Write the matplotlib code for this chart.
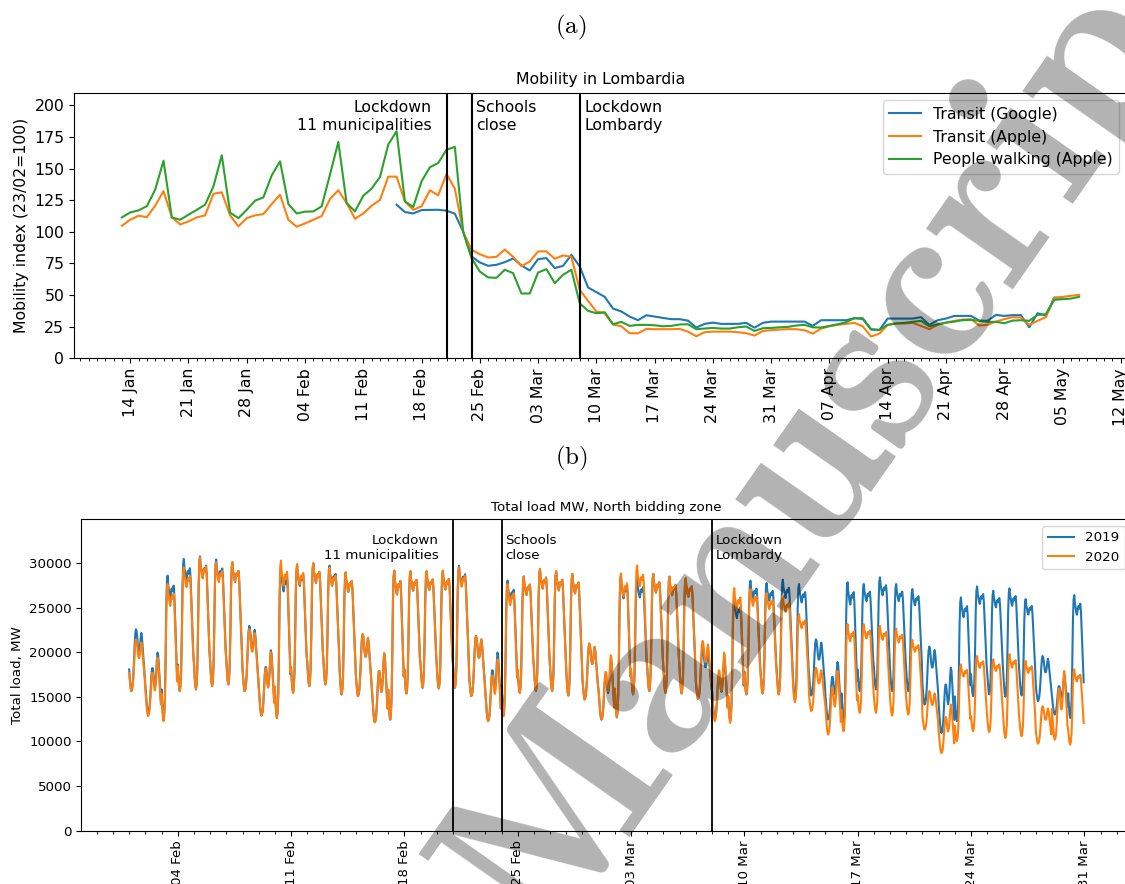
import matplotlib
matplotlib.use('Agg')
import numpy as np
import pandas as pd
import matplotlib.pyplot as plt
import matplotlib.dates as mdates
from matplotlib.ticker import MultipleLocator

plt.rcParams['mathtext.fontset'] = 'cm'

# ---- (a) mobility indices in Lombardia, 23/02 = 100 ----
apple_start = '2020-01-13'
transit_apple = [
    104.8, 109.5, 112.7, 111.6, 120.6, 132.2, 111.4,
    105.8, 108.2, 111.4, 113.0, 130.1, 131.2, 113.0,
    104.3, 110.8, 113.0, 114.0, 121.9, 129.3, 109.5,
    104.0, 106.6, 109.5, 112.4, 125.9, 132.8, 122.7,
    110.3, 114.5, 120.6, 125.1, 143.6, 143.6, 124.0,
    117.4, 120.1, 132.8, 128.8, 145.7, 134.1, 100.0,
    85.8, 82.3, 79.7, 80.2, 86.0, 80.2, 72.8,
    76.5, 84.5, 84.5, 78.7, 81.3, 80.2, 54.1,
    45.4, 37.0, 35.6, 26.7, 25.3, 19.8, 19.8,
    23.2, 23.0, 23.0, 23.0, 23.2, 21.1, 17.4,
    20.6, 21.1, 21.1, 21.1, 20.6, 19.8, 18.0,
    21.6, 22.2, 22.7, 23.0, 23.0, 22.2, 19.5,
    23.5, 25.3, 26.4, 27.2, 28.0, 25.3, 17.2,
    19.5, 26.4, 27.5, 27.5, 28.0, 25.6, 23.0,
    26.4, 28.2, 29.6, 30.6, 30.9, 25.9, 26.4,
    29.0, 30.9, 32.5, 32.2, 26.4, 29.6, 32.5,
    47.5, 48.5, 49.4, 50.2]
walking_apple = [
    111.4, 115.3, 116.9, 120.3, 133.3, 156.2, 111.4,
    109.5, 113.5, 117.4, 121.4, 135.9, 160.5, 115.1,
    110.8, 117.4, 124.6, 127.2, 144.6, 155.7, 121.9,
    114.5, 115.9, 116.1, 120.1, 145.2, 171.0, 122.7,
    116.1, 128.5, 134.1, 143.3, 168.9, 179.5, 124.0,
    119.6, 139.9, 151.0, 154.4, 164.9, 167.1, 100.0,
    79.2, 68.6, 63.9, 63.6, 70.0, 67.3, 51.2,
    51.2, 67.8, 70.5, 59.4, 66.0, 70.0, 43.5,
    37.5, 35.6, 36.4, 26.9, 28.8, 25.6, 26.4,
    26.4, 26.1, 25.3, 25.6, 26.7, 26.9, 23.0,
    23.5, 24.0, 23.5, 23.5, 24.5, 25.1, 21.6,
    23.8, 24.0, 24.5, 24.8, 25.9, 26.4, 24.5,
    24.3, 25.6, 26.9, 28.5, 31.7, 31.7, 23.0,
    22.4, 26.4, 27.5, 28.0, 28.8, 29.6, 25.3,
    26.9, 28.2, 29.0, 30.1, 30.4, 29.6, 28.8,
    28.8, 27.7, 29.8, 30.1, 29.6, 34.3, 34.8,
    46.2, 46.7, 47.2, 48.6]
google_start = '2020-02-15'
transit_google = [
    121.4, 115.6,
    114.5, 117.2, 117.3, 117.4, 116.7, 114.3, 100.0,
    80.5, 75.8, 73.1, 73.9, 76.0, 78.9, 73.4,
    69.4, 78.4, 79.2, 71.3, 73.1, 81.8, 72.6,
    56.0, 52.3, 48.6, 39.3, 37.0, 33.0, 30.1,
    34.0, 33.0, 31.9, 30.9, 30.9, 29.8, 24.3,
    27.2, 28.2, 27.2, 27.2, 27.2, 28.0, 24.2,
    28.0, 29.0, 29.0, 29.0, 29.0, 29.0, 25.6,
    30.1, 30.1, 30.1, 30.1, 31.7, 31.1, 22.7,
    22.4, 31.4, 31.4, 31.4, 31.4, 32.5, 26.4,
    30.1, 31.4, 33.5, 33.5, 33.5, 29.8, 29.6,
    34.3, 33.5, 34.1, 34.1, 24.5, 35.6, 33.8,
    48.0, 48.0]

# ---- (b) total load, North bidding zone (MW) ----
# per day: early-morning trough and daily peak, from 2020-02-01
load_start = '2020-02-01'
low_2019 = [15640, 13200, 12640, 15640, 15830, 16200, 16390, 15640, 12900, 12640,
            15450, 16200, 16390, 15270, 15080, 12150, 12450, 15380, 16020, 15940,
            16020, 15080, 12270, 13390, 15450, 15640, 15640, 15150, 14700, 12450,
            12700, 15270, 15640, 15450, 15380, 14780, 12700, 12300, 15270, 15380,
            15270, 14700, 15150, 12450, 12270, 15640, 15830, 15640, 15640, 14140,
            10950, 12270, 15080, 15270, 15000, 15150, 14520, 13020, 12640]
high_2019 = [22580, 19960, 28580, 30450, 30750, 30380, 30080, 22950, 20220, 29520,
             29700, 29970, 29700, 28950, 22020, 19880, 29140, 29070, 29070, 29140,
             29700, 21830, 19960, 28020, 28500, 29330, 29070, 28770, 20970, 19200,
             28580, 28200, 28770, 28470, 28280, 20330, 19200, 26000, 28020, 27750,
             28130, 27640, 21450, 18900, 27830, 27640, 28390, 27640, 27080, 20630,
             18270, 26140, 27380, 26890, 27150, 25950, 19580, 17300, 26400]
low_2020 = [15640, 12830, 12270, 15640, 15830, 16200, 16390, 15640, 12900, 12640,
            15450, 16200, 16390, 15270, 15080, 12150, 12450, 15380, 16020, 15940,
            16020, 15080, 12270, 12830, 15450, 15640, 15640, 15150, 14700, 12450,
            12700, 15270, 15640, 15450, 15380, 14780, 12270, 12080, 15270, 15380,
            15270, 14400, 13390, 10770, 11140, 13200, 13200, 12900, 13020, 11330,
            8700, 10020, 11140, 11030, 10390, 10580, 9750, 10200, 9640]
high_2020 = [21450, 19400, 27640, 29520, 30640, 30080, 30080, 22580, 20000, 30270,
             29890, 29970, 29500, 28950, 22020, 19880, 29140, 29070, 29070, 29140,
             29500, 21830, 19200, 27640, 28500, 29330, 29070, 28770, 20970, 19660,
             28840, 29700, 28770, 28470, 28280, 21270, 19960, 27190, 27080, 26630,
             26330, 24270, 18270, 17890, 23140, 23140, 22950, 22650, 21380, 15640,
             14140, 18640, 19580, 19200, 19770, 19020, 13950, 17900, 18080]
# hourly shape of a day between its trough (0) and its peak (1)
profile_weekday = [0.20, 0.10, 0.03, 0.00, 0.04, 0.15, 0.42, 0.78, 0.96, 1.00, 0.93, 0.90,
                   0.86, 0.84, 0.88, 0.91, 0.89, 0.91, 0.93, 0.86, 0.72, 0.56, 0.42, 0.29]
profile_saturday = [0.35, 0.20, 0.08, 0.00, 0.02, 0.08, 0.22, 0.45, 0.72, 0.92, 1.00, 0.97,
                    0.86, 0.72, 0.64, 0.64, 0.72, 0.86, 0.94, 0.86, 0.70, 0.55, 0.40, 0.25]
profile_sunday = [0.45, 0.30, 0.15, 0.05, 0.00, 0.02, 0.08, 0.22, 0.42, 0.62, 0.74, 0.74,
                  0.64, 0.50, 0.44, 0.50, 0.64, 0.86, 1.00, 0.95, 0.78, 0.58, 0.38, 0.20]

events = [('2020-02-21', 'Lockdown\n11 municipalities', 'right'),
          ('2020-02-24', 'Schools\nclose', 'left'),
          ('2020-03-08', 'Lockdown\nLombardy', 'left')]


def hourly_load(lows, highs):
    days = pd.date_range(load_start, periods=len(lows), freq='D')
    values = []
    for day, lo, hi in zip(days, lows, highs):
        if day.weekday() == 5:
            shape = profile_saturday
        elif day.weekday() == 6:
            shape = profile_sunday
        else:
            shape = profile_weekday
        values.extend(lo + s * (hi - lo) for s in shape)
    return values


def date_axis(ax):
    ax.xaxis.set_major_locator(mdates.WeekdayLocator(byweekday=mdates.TU))
    ax.xaxis.set_minor_locator(mdates.DayLocator())
    ax.xaxis.set_major_formatter(mdates.DateFormatter('%d %b'))
    plt.setp(ax.get_xticklabels(), rotation=90)


fig = plt.figure(figsize=(11.25, 8.84), dpi=100)

# ---------------- (a) ----------------
ax1 = fig.add_axes([0.0658, 0.5947, 0.936, 0.3005])
apple_days = pd.date_range(apple_start, periods=len(transit_apple), freq='D')
google_days = pd.date_range(google_start, periods=len(transit_google), freq='D')
ax1.plot(google_days, transit_google, label='Transit (Google)')
ax1.plot(apple_days, transit_apple, label='Transit (Apple)')
ax1.plot(apple_days, walking_apple, label='People walking (Apple)')
ax1.set_ylim(0, 210)
ax1.yaxis.set_major_locator(MultipleLocator(25))
fs_a = 11.3
for date, text, side in events:
    x = mdates.date2num(pd.Timestamp(date))
    ax1.axvline(x, color='black', lw=1.5)
    dx = -1.75 if side == 'right' else 0.6
    ax1.text(x + dx, 204, text, ha=side, va='top', fontsize=fs_a)
date_axis(ax1)
ax1.tick_params(axis='both', labelsize=fs_a)
ax1.set_ylabel('Mobility index (23/02=100)', fontsize=fs_a)
ax1.set_title('Mobility in Lombardia', fontsize=fs_a)
ax1.legend(loc='upper right', fontsize=fs_a)

# ---------------- (b) ----------------
ax2 = fig.add_axes([0.0724, 0.0603, 0.9333, 0.3523])
hours = pd.date_range(load_start, periods=len(low_2019) * 24, freq='h')
ax2.plot(hours, hourly_load(low_2019, high_2019), label='2019')
ax2.plot(hours, hourly_load(low_2020, high_2020), label='2020')
ax2.set_ylim(0, 34900)
fs_b = 9.6
for date, text, side in events:
    x = mdates.date2num(pd.Timestamp(date))
    ax2.axvline(x, color='black', lw=1.3)
    dx = -0.86 if side == 'right' else 0.25
    ax2.text(x + dx, 33200, text, ha=side, va='top', fontsize=fs_b)
date_axis(ax2)
ax2.tick_params(axis='both', labelsize=fs_b)
ax2.set_ylabel('Total load, MW', fontsize=fs_b)
ax2.set_title('Total load MW, North bidding zone', fontsize=fs_b)
ax2.legend(loc='upper right', fontsize=fs_b)

# panel labels and watermark
fig.text(0.5076, 0.969, r'$\mathrm{(a)}$', fontsize=18, ha='center', va='center')
fig.text(0.5076, 0.481, r'$\mathrm{(b)}$', fontsize=18, ha='center', va='center')
fig.text(0.742, 0.515, r'$\mathbf{Manuscript}$', fontsize=172, rotation=55,
         rotation_mode='anchor', ha='center', va='center', color='black',
         alpha=0.3, zorder=10)

fig.savefig('out.png', dpi=100)
